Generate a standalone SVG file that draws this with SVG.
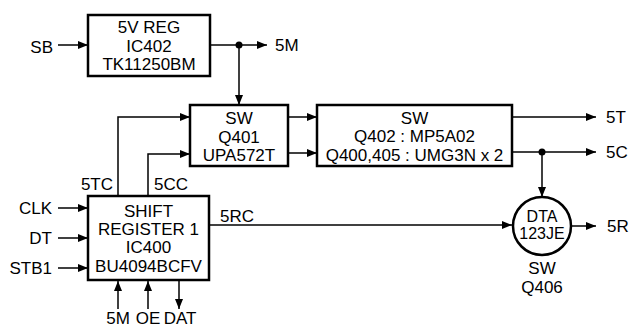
<svg xmlns="http://www.w3.org/2000/svg" width="630" height="329" viewBox="0 0 630 329">
<style>
.box{fill:#fff;stroke:#000;stroke-width:2.5}
.w{fill:none;stroke:#000;stroke-width:1.5}
text{font-family:"Liberation Sans",Arial,sans-serif;font-size:17px;fill:#000}
.c{text-anchor:middle}
.e{text-anchor:end}
.s{font-size:16px}
</style>
<defs>
<marker id="a" viewBox="0 0 10 8" refX="10" refY="4" markerWidth="10" markerHeight="8" markerUnits="userSpaceOnUse" orient="auto"><path d="M0,0L10,4L0,8z" fill="#000"/></marker>
</defs>
<g id="connectors">
<line class="w" x1="58" y1="45" x2="88" y2="45" marker-end="url(#a)"/>
<line class="w" x1="210" y1="45" x2="267" y2="45" marker-end="url(#a)"/>
<circle cx="239" cy="45" r="3.5"/>
<line class="w" x1="239" y1="45" x2="239" y2="105" marker-end="url(#a)"/>
<polyline class="w" points="118,196 118,117 190,117" marker-end="url(#a)"/>
<polyline class="w" points="148,196 148,154 190,154" marker-end="url(#a)"/>
<line class="w" x1="288" y1="117" x2="317" y2="117" marker-end="url(#a)"/>
<line class="w" x1="288" y1="153" x2="317" y2="153" marker-end="url(#a)"/>
<line class="w" x1="512" y1="117" x2="596" y2="117" marker-end="url(#a)"/>
<line class="w" x1="512" y1="152" x2="596" y2="152" marker-end="url(#a)"/>
<circle cx="542" cy="152" r="3.5"/>
<line class="w" x1="542" y1="152" x2="542" y2="197" marker-end="url(#a)"/>
<line class="w" x1="209" y1="225" x2="512" y2="225" marker-end="url(#a)"/>
<line class="w" x1="572" y1="226" x2="596" y2="226" marker-end="url(#a)"/>
<line class="w" x1="58" y1="208" x2="88" y2="208" marker-end="url(#a)"/>
<line class="w" x1="58" y1="238" x2="88" y2="238" marker-end="url(#a)"/>
<line class="w" x1="58" y1="268" x2="88" y2="268" marker-end="url(#a)"/>
<line class="w" x1="118" y1="309" x2="118" y2="281" marker-end="url(#a)"/>
<line class="w" x1="148" y1="309" x2="148" y2="281" marker-end="url(#a)"/>
<line class="w" x1="179" y1="281" x2="179" y2="309" marker-end="url(#a)"/>
</g>
<g id="labels">
<text class="e" x="53" y="53">SB</text>
<text x="275" y="51">5M</text>
<text x="606" y="123">5T</text>
<text x="606" y="158">5C</text>
<text x="607" y="232">5R</text>
<text class="e" x="113" y="190">5TC</text>
<text x="154" y="190">5CC</text>
<text x="220" y="222">5RC</text>
<text class="e" x="52" y="214">CLK</text>
<text class="e" x="52" y="244">DT</text>
<text class="e" x="52" y="274">STB1</text>
<text class="c" x="118" y="324">5M</text>
<text class="c" x="148" y="324">OE</text>
<text class="c" x="180" y="324">DAT</text>
</g>
<g id="reg">
<rect class="box" x="88" y="15" width="122" height="61"/>
<text class="c" x="149" y="33">5V REG</text>
<text class="c" x="149" y="52">IC402</text>
<text class="c" x="149" y="70">TK11250BM</text>
</g>
<g id="q401">
<rect class="box" x="190" y="105" width="98" height="61"/>
<text class="c" x="239" y="124">SW</text>
<text class="c" x="239" y="143">Q401</text>
<text class="c" x="239" y="161">UPA572T</text>
</g>
<g id="q402">
<rect class="box" x="317" y="105" width="195" height="61"/>
<text class="c" x="414.5" y="124">SW</text>
<text class="c" x="414.5" y="142">Q402 : MP5A02</text>
<text class="c" x="414.5" y="160.5">Q400,405 : UMG3N x 2</text>
</g>
<g id="ic400">
<rect class="box" x="88" y="196" width="121" height="84"/>
<text class="c" x="148.5" y="217">SHIFT</text>
<text class="c" x="148.5" y="235">REGISTER 1</text>
<text class="c" x="148.5" y="253">IC400</text>
<text class="c" x="148.5" y="272">BU4094BCFV</text>
</g>
<g id="q406">
<circle class="box" cx="542" cy="226" r="29"/>
<text class="c s" x="542" y="222">DTA</text>
<text class="c s" x="542" y="239">123JE</text>
<text class="c" x="542" y="274">SW</text>
<text class="c" x="542" y="293">Q406</text>
</g>
</svg>
